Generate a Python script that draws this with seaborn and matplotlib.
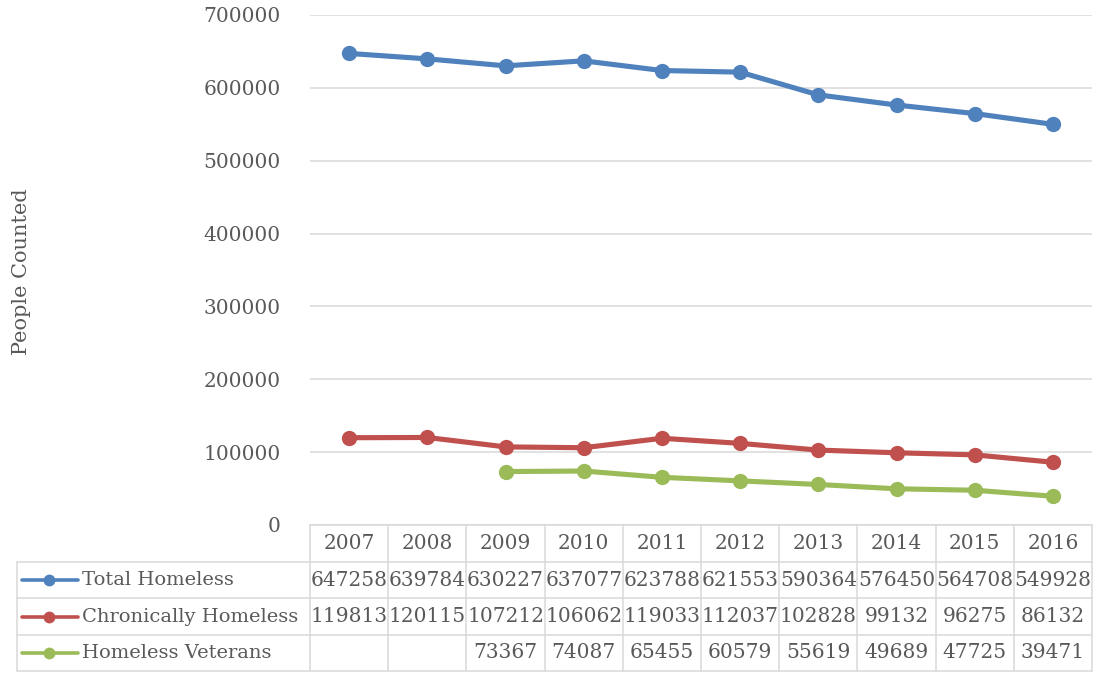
import numpy as np
import pandas as pd
import seaborn as sns
from matplotlib import pyplot as plt

years = ['2007', '2008', '2009', '2010', '2011', '2012', '2013', '2014', '2015', '2016']
total_homeless = [647258, 639784, 630227, 637077, 623788, 621553, 590364, 576450, 564708, 549928]
chronic_homeless = [119813, 120115, 107212, 106062, 119033, 112037, 102828, 99132, 96275, 86132]
homeless_veterans = [None, None, 73367, 74087, 65455, 60579, 55619, 49689, 47725, 39471]

series_names = ['Total Homeless', 'Chronically Homeless', 'Homeless Veterans']
series_vals = [total_homeless, chronic_homeless, homeless_veterans]
colors = ['#4f81bd', '#c0504d', '#9bbb59']

sns.set_style('white')
plt.rcParams['font.family'] = ['DejaVu Serif']
txt_col = '#595959'
grid_col = '#d9d9d9'
fs = 14.5

W, H = 1094, 677
fig = plt.figure(figsize=(W / 100, H / 100), dpi=100)

# plot area in pixels
left, right, top, bottom = 310, 1092, 15, 525
ax = fig.add_axes([left / W, 1 - bottom / H, (right - left) / W, (bottom - top) / H])

for name, vals, c in zip(series_names, series_vals, colors):
    d = pd.DataFrame({'x': np.arange(len(years)), 'y': [np.nan if v is None else v for v in vals]})
    d = d.dropna()
    sns.lineplot(data=d, x='x', y='y', ax=ax, color=c, lw=3.7, marker='o',
                 markersize=11, markeredgewidth=0)

ax.set_xlim(-0.5, len(years) - 0.5)
ax.set_ylim(0, 700000)
ax.set_yticks(np.arange(0, 700001, 100000))
ax.set_yticklabels([str(v) for v in range(0, 700001, 100000)], fontsize=fs, color=txt_col)
ax.set_xticks([])
ax.tick_params(axis='y', length=0, pad=21)
ax.yaxis.grid(True, color=grid_col, lw=1.1)
ax.set_axisbelow(True)
for s in ['top', 'right', 'left']:
    ax.spines[s].set_visible(False)
ax.spines['bottom'].set_color(grid_col)
ax.spines['bottom'].set_linewidth(1.1)
ax.set_xlabel('')
ax.set_ylabel('')

fig.text(22 / W, 1 - 272 / H, 'People Counted', rotation=90, ha='center', va='center',
         fontsize=15, color=txt_col)

# data table below the plot
tab = fig.add_axes([0, 0, 1, 1])
tab.set_xlim(0, W)
tab.set_ylim(H, 0)
tab.axis('off')
tab.patch.set_alpha(0)

colw = (right - left) / len(years)
row_y = [525, 562, 598, 635, 671]
tab_left = 17

for y in row_y[1:]:
    tab.plot([tab_left, right], [y, y], color=grid_col, lw=1.1)
for i in range(len(years) + 1):
    x = left + i * colw
    tab.plot([x, x], [row_y[0], row_y[-1]], color=grid_col, lw=1.1)
tab.plot([tab_left, tab_left], [row_y[1], row_y[-1]], color=grid_col, lw=1.1)

for i, yr in enumerate(years):
    tab.text(left + (i + 0.5) * colw, (row_y[0] + row_y[1]) / 2, yr, ha='center', va='center',
             fontsize=fs, color=txt_col)

for r, (name, vals, c) in enumerate(zip(series_names, series_vals, colors)):
    yc = (row_y[r + 1] + row_y[r + 2]) / 2
    tab.plot([22, 78], [yc, yc], color=c, lw=2.6, solid_capstyle='round')
    tab.plot([49], [yc], 'o', color=c, markersize=8.5, markeredgewidth=0)
    tab.text(82, yc, name, ha='left', va='center', fontsize=14, color=txt_col)
    for i, v in enumerate(vals):
        if v is not None:
            tab.text(left + (i + 0.5) * colw, yc, str(v), ha='center', va='center',
                     fontsize=fs, color=txt_col)

fig.savefig('out.png', dpi=100)
